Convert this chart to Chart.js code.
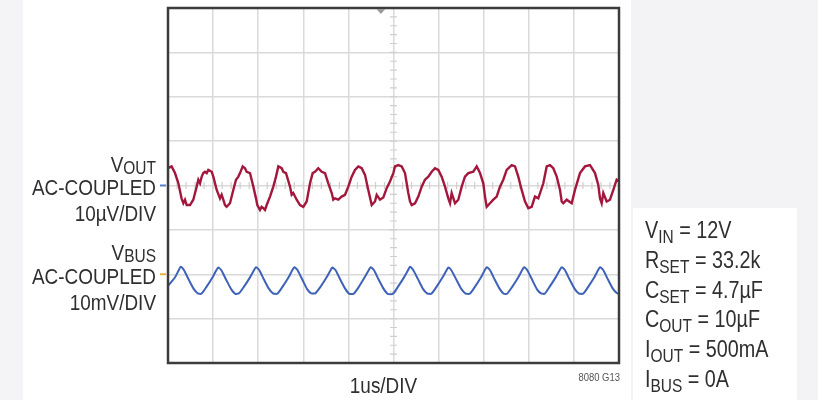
<!DOCTYPE html>
<html><head><meta charset="utf-8">
<script src="https://cdn.jsdelivr.net/npm/chart.js@4/dist/chart.umd.min.js"></script>
<style>
html,body{margin:0;padding:0;width:818px;height:400px;overflow:hidden;background:#fff;}
#bgL{position:absolute;left:0;top:0;width:23px;height:400px;background:#f4f4f6;}
#bgR{position:absolute;left:631px;top:0;width:187px;height:400px;background:#f3f3f5;}
#box{position:absolute;left:633px;top:208px;width:164px;height:192px;background:#fff;}
#wrap{position:absolute;left:0;top:0;width:818px;height:400px;}
</style></head><body>
<div id="bgL"></div><div id="bgR"></div><div id="box"></div>
<div id="wrap"><canvas id="c" width="818" height="400"></canvas></div>
<script>
// ---- data ----
// time in microseconds (1us/DIV, 10 divisions)
const voutTime = [0.0,0.08,0.155,0.23,0.30,0.34,0.377,0.414,0.488,0.561,0.636,0.672,0.71,0.747,0.783,0.82,0.858,0.894,0.969,1.005,1.08,1.153,1.19,1.226,1.264,1.3,1.374,1.448,1.508,1.56,1.597,1.656,1.707,1.745,1.818,1.892,1.951,1.98,2.04,2.077,2.113,2.151,2.188,2.262,2.335,2.395,2.446,2.52,2.557,2.616,2.705,2.742,2.778,2.853,2.927,3.0,3.075,3.149,3.208,3.259,3.332,3.408,3.481,3.554,3.63,3.665,3.703,3.776,3.851,3.925,3.998,4.073,4.146,4.22,4.295,4.368,4.441,4.517,4.59,4.627,4.7,4.774,4.849,4.922,4.996,5.033,5.106,5.182,5.255,5.328,5.366,5.403,5.477,5.55,5.625,5.698,5.772,5.847,5.92,5.993,6.068,6.142,6.215,6.253,6.29,6.364,6.437,6.512,6.585,6.659,6.769,6.845,6.918,6.991,7.029,7.066,7.14,7.213,7.288,7.361,7.434,7.51,7.62,7.694,7.767,7.842,7.916,7.989,8.064,8.137,8.211,8.322,8.397,8.47,8.543,8.619,8.692,8.729,8.765,8.84,8.951,9.024,9.135,9.246,9.357,9.468,9.541,9.579,9.616,9.652,9.727,9.8,9.874,9.948,10.0];
// VOUT, AC-coupled, microvolts (10uV/DIV)
const voutMicroV = [3.9,4.3,2.8,0.5,-2.9,-4.0,-3.2,-4.4,-4.4,-3.2,-0.25,1.3,0.5,2.0,2.8,3.1,2.8,3.5,3.1,2.0,-1.0,-2.9,-2.1,-3.2,-4.4,-4.8,-4.0,-1.0,1.3,2.0,2.8,4.3,3.9,3.1,2.8,-0.25,-2.9,-4.4,-5.5,-4.8,-5.1,-5.5,-4.4,-2.5,-0.25,2.0,4.3,3.9,3.1,2.8,-0.25,-2.1,-1.7,-3.2,-4.4,-4.8,-3.6,0.5,2.8,3.1,3.9,3.1,2.8,0.5,-1.7,-3.2,-2.9,-3.2,-2.5,-2.1,-0.25,2.0,3.5,4.3,3.9,2.4,-1.0,-4.4,-3.6,-2.1,-3.2,-2.7,-0.6,0.9,2.8,4.3,4.6,4.3,2.8,-1.7,-3.6,-4.4,-4.0,-2.5,-0.25,1.3,2.0,3.1,3.9,3.5,2.0,-0.25,-2.9,-4.0,-1.7,-4.0,-3.2,-0.25,2.0,2.8,3.1,4.3,2.8,0.5,-2.5,-4.8,-4.0,-3.2,-2.5,-0.25,1.3,3.5,4.6,4.3,2.0,-1.0,-3.6,-5.1,-4.8,-2.5,-2.9,0.5,4.3,4.6,3.9,2.0,-1.0,-3.6,-4.0,-3.2,-4.0,-1.0,2.8,4.3,4.6,2.8,0.1,-2.9,-4.0,-1.7,-3.6,-3.2,-1.0,1.3,0.9];
const vbusTime = [0.0,0.149,0.238,0.282,0.349,0.459,0.57,0.659,0.738,0.849,0.982,1.071,1.115,1.182,1.292,1.403,1.492,1.574,1.685,1.818,1.907,1.951,2.018,2.128,2.239,2.328,2.423,2.534,2.667,2.756,2.8,2.867,2.977,3.088,3.177,3.266,3.377,3.51,3.599,3.643,3.71,3.82,3.931,4.02,4.117,4.228,4.361,4.45,4.494,4.561,4.671,4.782,4.871,4.989,5.1,5.233,5.322,5.366,5.433,5.543,5.654,5.743,5.838,5.949,6.082,6.171,6.215,6.282,6.392,6.503,6.592,6.69,6.801,6.934,7.023,7.067,7.134,7.244,7.355,7.444,7.517,7.628,7.761,7.85,7.894,7.961,8.071,8.182,8.271,8.352,8.463,8.596,8.685,8.729,8.796,8.906,9.017,9.106,9.202,9.313,9.446,9.535,9.579,9.646,9.756,9.867,9.956,10.0];
// VBUS, AC-coupled, millivolts (10mV/DIV)
const vbusMilliV = [-2.6,-0.8,0.9,1.7,1.0,-1.2,-3.3,-4.3,-4.4,-2.9,-0.8,0.9,1.5,0.9,-1.3,-3.4,-4.4,-4.3,-2.8,-0.7,0.9,1.6,1.0,-1.2,-3.3,-4.3,-4.4,-2.9,-0.8,0.9,1.6,1.0,-1.2,-3.4,-4.3,-4.3,-2.9,-0.8,0.8,1.5,1.0,-1.2,-3.3,-4.4,-4.4,-2.9,-0.7,0.9,1.6,1.0,-1.2,-3.3,-4.4,-4.4,-2.8,-0.7,0.9,1.7,1.0,-1.1,-3.3,-4.3,-4.4,-2.9,-0.8,0.8,1.5,0.9,-1.2,-3.3,-4.3,-4.4,-2.9,-0.8,0.9,1.6,1.0,-1.2,-3.3,-4.4,-4.4,-2.9,-0.8,0.9,1.6,1.0,-1.2,-3.4,-4.3,-4.4,-2.8,-0.7,0.9,1.6,1.0,-1.2,-3.3,-4.3,-4.4,-2.9,-0.8,0.9,1.6,1.0,-1.2,-3.3,-4.3,-4.4];
// scope graticule
const timeRangeUs = [0, 10];
const voutRangeUV = [-40, 40];
const vbusRangeMV = [-20, 60];
const triggerTimeUs = 4.72;
// text
const voutLabels = [[["V",0],["OUT",1]], [["AC-COUPLED",0]], [["10µV/DIV",0]]];
const vbusLabels = [[["V",0],["BUS",1]], [["AC-COUPLED",0]], [["10mV/DIV",0]]];
const conditionLabels = [
  [["V",0],["IN",1],[" = 12V",0]],
  [["R",0],["SET",1],[" = 33.2k",0]],
  [["C",0],["SET",1],[" = 4.7µF",0]],
  [["C",0],["OUT",1],[" = 10µF",0]],
  [["I",0],["OUT",1],[" = 500mA",0]],
  [["I",0],["BUS",1],[" = 0A",0]]
];
const xAxisLabel = "1us/DIV";
const figureId = "8080 G13";

const pts = (xs, ys) => xs.map((x, i) => ({x, y: ys[i]}));

const FONT = '"Liberation Sans", Arial, sans-serif';
const SX = 0.86;
function drawRich(ctx, parts, x, y, align, size, subSize, subOff, color) {
  ctx.fillStyle = color;
  ctx.textBaseline = 'alphabetic';
  ctx.textAlign = 'left';
  let total = 0;
  const ws = parts.map(([t, s]) => {
    ctx.font = (s ? subSize : size) + 'px ' + FONT;
    const w = ctx.measureText(t).width * SX;
    total += w;
    return w;
  });
  let cx = align === 'right' ? x - total : (align === 'center' ? x - total / 2 : x);
  parts.forEach(([t, s], i) => {
    ctx.save();
    ctx.font = (s ? subSize : size) + 'px ' + FONT;
    ctx.translate(cx, y + (s ? subOff : 0));
    ctx.scale(SX, 1.04);
    ctx.fillText(t, 0, 0);
    ctx.restore();
    cx += ws[i];
  });
}

const scopePlugin = {
  id: 'scope',
  beforeDatasetsDraw(chart) {
    const {ctx, chartArea: a, scales: {x, yOut}} = chart;
    ctx.save();
    ctx.strokeStyle = '#cfcfcf';
    ctx.lineWidth = 1.2;
    const cxp = x.getPixelForValue(5);
    const cyp = yOut.getPixelForValue(0);
    ctx.beginPath();
    for (let v = voutRangeUV[0]; v <= voutRangeUV[1]; v += 2) {
      const py = yOut.getPixelForValue(v);
      ctx.moveTo(cxp - 3.5, py); ctx.lineTo(cxp + 3.5, py);
    }
    for (let t = timeRangeUs[0]; t <= timeRangeUs[1] + 1e-9; t += 0.2) {
      const px = x.getPixelForValue(t);
      ctx.moveTo(px, cyp - 3.5); ctx.lineTo(px, cyp + 3.5);
    }
    ctx.stroke();
    ctx.restore();
  },
  afterDatasetsDraw(chart) {
    const {ctx, chartArea: a, scales: {x, yOut, yBus}} = chart;
    ctx.save();
    ctx.strokeStyle = '#3c3c3c';
    ctx.lineWidth = 2.5;
    ctx.strokeRect(a.left, a.top, a.right - a.left, a.bottom - a.top);
    const tx = x.getPixelForValue(triggerTimeUs);
    ctx.fillStyle = '#9a9a9a';
    ctx.beginPath();
    ctx.moveTo(tx - 4.5, a.top + 1); ctx.lineTo(tx + 4.5, a.top + 1); ctx.lineTo(tx, a.top + 6);
    ctx.closePath(); ctx.fill();
    ctx.lineWidth = 2;
    ctx.strokeStyle = '#5b7fc6';
    let gy = yOut.getPixelForValue(0);
    ctx.beginPath(); ctx.moveTo(a.left - 8, gy); ctx.lineTo(a.left - 2, gy); ctx.stroke();
    ctx.strokeStyle = '#e0b43a';
    gy = yBus.getPixelForValue(0);
    ctx.beginPath(); ctx.moveTo(a.left - 8, gy); ctx.lineTo(a.left - 2, gy); ctx.stroke();
    ctx.restore();
  },
  afterDraw(chart) {
    const {ctx, chartArea: a, scales: {x, yOut, yBus}} = chart;
    ctx.save();
    const txtColor = '#2f2f2f';
    const rx = a.left - 12;
    const groups = [[voutLabels, yOut.getPixelForValue(0)], [vbusLabels, yBus.getPixelForValue(0)]];
    groups.forEach(([lines, g]) => {
      const offs = [-14, 9.5, 35.5];
      lines.forEach((parts, i) => drawRich(ctx, parts, rx, g + offs[i], 'right', 22, 18, 2, txtColor));
    });
    conditionLabels.forEach((parts, i) => drawRich(ctx, parts, 645, 238 + i * 29.8, 'left', 23, 18, 5, txtColor));
    drawRich(ctx, [[xAxisLabel, 0]], x.getPixelForValue(5) - 10, a.bottom + 30, 'center', 22, 18, 0, txtColor);
    drawRich(ctx, [[figureId, 0]], a.right + 1, a.bottom + 18, 'right', 11, 11, 0, '#555555');
    ctx.restore();
  }
};

new Chart(document.getElementById('c'), {
  type: 'line',
  data: {
    datasets: [
      {label: 'VOUT', data: pts(voutTime, voutMicroV), yAxisID: 'yOut', borderColor: '#a3173d', borderWidth: 2.4, pointRadius: 0, tension: 0, fill: false},
      {label: 'VBUS', data: pts(vbusTime, vbusMilliV), yAxisID: 'yBus', borderColor: '#3d62b8', borderWidth: 2, pointRadius: 0, tension: 0.2, fill: false}
    ]
  },
  options: {
    responsive: false,
    animation: false,
    devicePixelRatio: 1,
    layout: {autoPadding: false, padding: {left: 168, right: 199, top: 8, bottom: 37}},
    plugins: {legend: {display: false}, tooltip: {enabled: false}},
    scales: {
      x: {type: 'linear', min: timeRangeUs[0], max: timeRangeUs[1],
          ticks: {display: false, stepSize: 1},
          grid: {color: '#dadada', lineWidth: 1.5, drawTicks: false}, border: {display: false}},
      yOut: {type: 'linear', position: 'left', min: voutRangeUV[0], max: voutRangeUV[1],
          ticks: {display: false, stepSize: 10},
          grid: {color: '#dadada', lineWidth: 1.5, drawTicks: false}, border: {display: false}},
      yBus: {type: 'linear', position: 'right', min: vbusRangeMV[0], max: vbusRangeMV[1], display: false}
    }
  },
  plugins: [scopePlugin]
});
</script>
</body></html>
